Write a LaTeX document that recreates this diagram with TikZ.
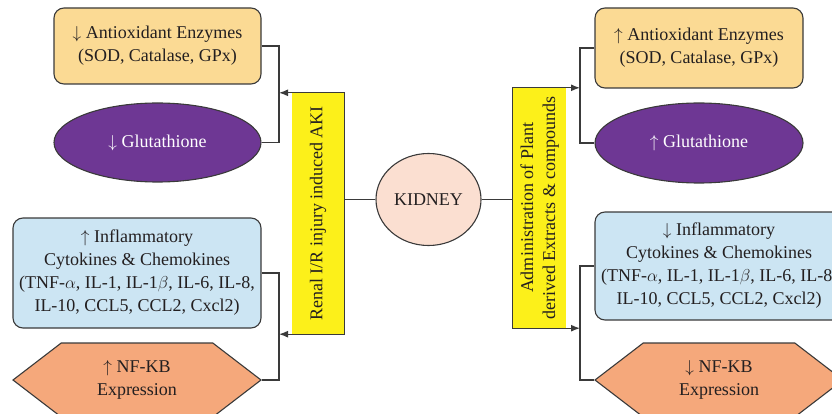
\documentclass[tikz,border=0pt]{standalone}
\usepackage{fontspec}
\setmainfont{Liberation Serif}
\usepackage{graphicx}
\usetikzlibrary{shapes.geometric,shapes.symbols,arrows.meta}
\definecolor{ink}{HTML}{231F20}
\definecolor{wire}{HTML}{3A3A3A}
\definecolor{antcol}{HTML}{FBDA94}
\definecolor{glucol}{HTML}{6E3794}
\definecolor{infcol}{HTML}{CCE5F3}
\definecolor{nfcol}{HTML}{F5A87B}
\definecolor{akicol}{HTML}{FCF01A}
\definecolor{kidcol}{HTML}{FBDFD1}

\begin{document}
\begin{tikzpicture}[x=1pt,y=-1pt,
  txt/.style={text=ink,align=center,inner sep=0pt,font=\fontsize{18}{23}\selectfont},
  roundbox/.style={txt,draw=wire,line width=1.1pt,rounded corners=10pt},
  antbox/.style={roundbox,fill=antcol,minimum width=207pt},
  infbox/.style={roundbox,fill=infcol,minimum width=248pt},
  glubox/.style={txt,ellipse,draw=wire,line width=1.1pt,fill=glucol,text=white,minimum width=207pt,minimum height=79pt},
  nfbox/.style={txt,signal,signal to=west and east,signal pointer angle=75,draw=wire,line width=1.1pt,fill=nfcol,minimum width=248pt,minimum height=74pt},
  akibox/.style={txt,fill=akicol,minimum width=52pt},
  kidbox/.style={txt,ellipse,draw=wire,line width=1.1pt,fill=kidcol,minimum width=105pt,minimum height=92pt},
  link/.style={draw=wire,line width=1.2pt},
  arrowline/.style={link,-{Latex[length=9pt,width=7pt]}}]
\useasboundingbox (0,0) rectangle (832,414);
\clip (0,0) rectangle (832,414);

\node[kidbox] (kid) at (428.5,199.5) {KIDNEY};

\node[akibox,minimum height=241pt] (yelL) at (318,213.5) {\rotatebox{90}{Renal I/R injury induced AKI}};
\node[akibox,minimum width=53pt,minimum height=240pt] (yelR) at (539.5,208)
  {\rotatebox{90}{\begin{tabular}{@{}c@{}}Administration of Plant\\[-1pt]derived Extracts \& compounds\end{tabular}}};

\node[antbox,minimum height=76pt] (antL) at (157.5,46) {$\downarrow$ Antioxidant Enzymes\\(SOD, Catalase, GPx)};
\node[glubox] (gluL) at (157.5,142.5) {$\downarrow$ Glutathione};
\node[infbox,minimum height=110pt] (infL) at (137,273) {$\uparrow$ Inflammatory\\Cytokines \& Chemokines\\(TNF-$\alpha$, IL-1, IL-1$\beta$, IL-6, IL-8,\\IL-10, CCL5, CCL2, Cxcl2)};
\node[nfbox] (nfL) at (137,380) {$\uparrow$ NF-KB\\Expression};

\node[antbox,minimum width=208pt,minimum height=80pt] (antR) at (699,48) {$\uparrow$ Antioxidant Enzymes\\(SOD, Catalase, GPx)};
\node[glubox,minimum width=208pt,minimum height=80pt] (gluR) at (699,143) {$\uparrow$ Glutathione};
\node[infbox,minimum height=108pt] (infR) at (719,266) {$\downarrow$ Inflammatory\\Cytokines \& Chemokines\\(TNF-$\alpha$, IL-1, IL-1$\beta$, IL-6, IL-8,\\IL-10, CCL5, CCL2, Cxcl2)};
\node[nfbox] (nfR) at (719,380) {$\downarrow$ NF-KB\\Expression};

\coordinate (brL) at (279,0);
\coordinate (brR) at (580,0);

% kidney to both causes
\draw[link] (kid.west -| yelL.east) -- (kid.west);
\draw[link] (kid.east) -- (kid.east -| yelR.west);
\draw[link] (yelL.north west) -- (yelL.north east) -- (yelL.south east) -- (yelL.south west);
\draw[link] (yelR.north east) -- (yelR.north west) -- (yelR.south west) -- (yelR.south east);

% left brackets
\draw[link] (antL.east) -- (antL.east -| brL) -- (gluL.east -| brL) -- (gluL.east);
\draw[link] (infL.east) -- (infL.east -| brL) -- (nfL.east -| brL) -- (nfL.east);
\draw[arrowline] (yelL.north west) -- (yelL.north west -| brL);
\draw[arrowline] (yelL.south west) -- (yelL.south west -| brL);

% right brackets
\draw[link] (antR.west) -- (antR.west -| brR) -- (gluR.west -| brR) -- (gluR.west);
\draw[link] (infR.west) -- (infR.west -| brR) -- (nfR.west -| brR) -- (nfR.west);
\draw[arrowline] (yelR.north east) -- (yelR.north east -| brR);
\draw[arrowline] (yelR.south east) -- (yelR.south east -| brR);
\end{tikzpicture}
\end{document}
